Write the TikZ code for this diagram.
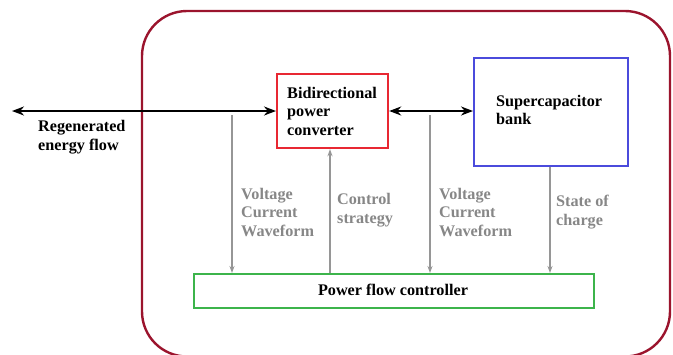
\documentclass[tikz,border=0pt]{standalone}
\usepackage{fontspec}
\setmainfont{Liberation Serif}
\usetikzlibrary{arrows.meta}
\definecolor{outerred}{RGB}{155,20,45}
\definecolor{boxred}{RGB}{232,40,50}
\definecolor{boxblue}{RGB}{75,75,220}
\definecolor{boxgreen}{RGB}{60,180,75}
\definecolor{txtgray}{RGB}{135,135,135}
\definecolor{lngray}{RGB}{150,150,150}
\tikzset{
  lbl/.style={font=\fontsize{16.2}{18.5}\selectfont\bfseries, align=left, inner sep=0pt},
  glbl/.style={lbl, text=txtgray},
  blk/.style={draw, line width=2.2pt, inner sep=0pt, minimum width=#1},
  power/.style={line width=2.6pt, {Stealth[length=12pt,width=9pt]}-{Stealth[length=12pt,width=9pt]}},
  sig/.style={draw=lngray, line width=1.4pt, -{Stealth[length=7pt,width=5pt]}}
}
\begin{document}
\begin{tikzpicture}[x=1pt,y=-1pt]
\useasboundingbox (0,0) rectangle (673,354);
\begin{scope}
\clip (0,0) rectangle (673,354);
\draw[outerred, line width=2.4pt, rounded corners=45pt] (142,11) rectangle (670,356.5);
\end{scope}
% boxes
\node[blk=111pt, draw=boxred, minimum height=74pt, anchor=north west] (conv) at (276,73) {};
\node[blk=154pt, draw=boxblue, minimum height=108pt, anchor=north west] (bank) at (473,57) {};
\node[blk=400pt, draw=boxgreen, minimum height=34pt, anchor=north west] (ctrl) at (193,273) {};
% texts
\node[lbl, anchor=west] (convt) at (287,111) {Bidirectional\\power\\converter};
\node[lbl, anchor=west] (bankt) at (496,110) {Supercapacitor\\bank};
\node[lbl, anchor=center] (ctrlt) at (393,290) {Power flow controller};
\node[lbl, anchor=west] (regen) at (38,137) {Regenerated\\energy flow};
\node[glbl, anchor=west] (vcw1) at (241,212) {Voltage\\Current\\Waveform};
\node[glbl, anchor=west] (cs) at (337,210) {Control\\strategy};
\node[glbl, anchor=west] (vcw2) at (439,212) {Voltage\\Current\\Waveform};
\node[glbl, anchor=west] (soc) at (556,212) {State of\\charge};
% connectors
\coordinate (left) at (12,111);
\draw[power] (left) -- (conv.west |- left);
\draw[power] (conv.east |- left) -- (bank.west |- left);
\coordinate (s1) at (232,115);
\coordinate (s3) at (430,115);
\draw[sig] (s1) -- (s1 |- ctrl.north);
\draw[sig] (ctrl.north -| 330,0) -- (conv.south -| 330,0);
\draw[sig] (s3) -- (s3 |- ctrl.north);
\draw[sig] (bank.south -| 550,0) -- (ctrl.north -| 550,0);
\end{tikzpicture}
\end{document}
